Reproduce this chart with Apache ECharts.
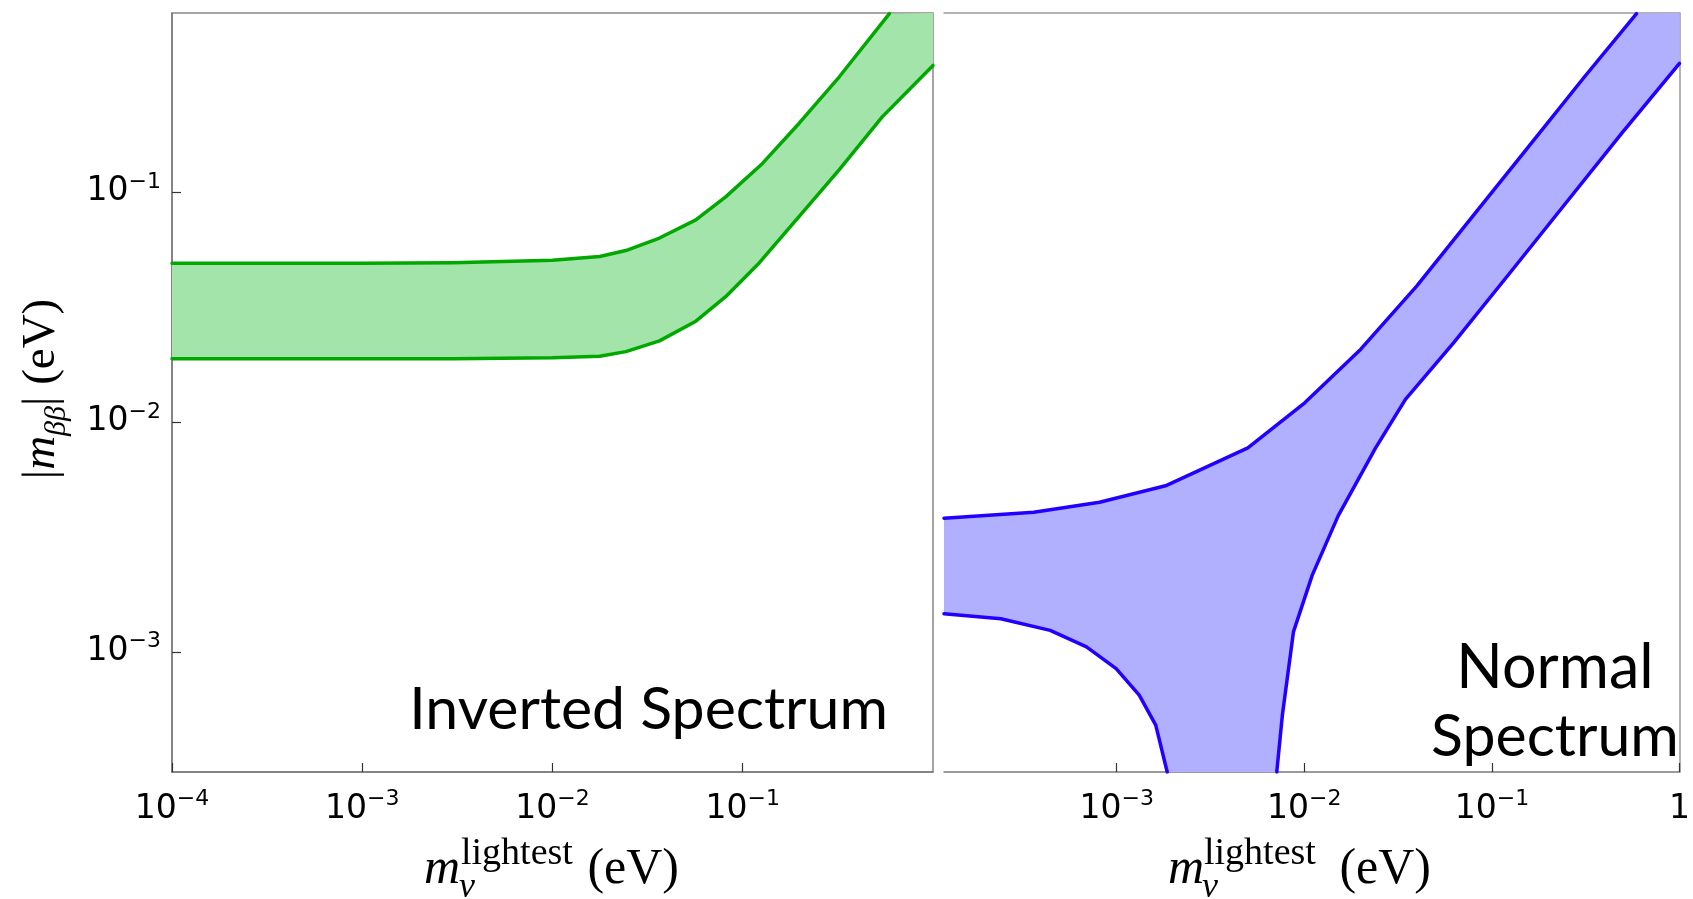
<!DOCTYPE html>
<html>
<head>
<meta charset="utf-8">
<script src="https://cdn.jsdelivr.net/npm/echarts@6/dist/echarts.min.js"></script>
<style>
html,body{margin:0;padding:0;background:#fff;}
#chart{width:1693px;height:899px;}
</style>
</head>
<body>
<div id="chart"></div>
<script>
// ---- axis ranges and ticks ----
const yRange = [3e-4, 0.6];
const xRangeInverted = [1e-4, 1];
const xRangeNormal = [1.2e-4, 1];
const yTicks = [1e-3, 1e-2, 1e-1];
const xTicksInverted = [1e-4, 1e-3, 1e-2, 1e-1];
const xTicksNormal = [1e-3, 1e-2, 1e-1, 1];

// ---- Inverted spectrum band (green) ----
const ihUpperX = [1e-4, 1e-3, 3e-3, 0.01, 0.0177, 0.0243, 0.0365, 0.0567, 0.0816, 0.127, 0.198, 0.321, 0.59];
const ihUpperY = [0.049, 0.049, 0.0492, 0.0505, 0.0524, 0.0556, 0.063, 0.0756, 0.0954, 0.133, 0.199, 0.316, 0.596];
const ihLowerX = [1e-4, 1e-3, 3e-3, 0.01, 0.0177, 0.0243, 0.0365, 0.0567, 0.0816, 0.122, 0.198, 0.321, 0.541, 1];
const ihLowerY = [0.0188, 0.0188, 0.0188, 0.0190, 0.0193, 0.0202, 0.0225, 0.0274, 0.0351, 0.0491, 0.0782, 0.1246, 0.212, 0.355];

// ---- Normal spectrum band (blue) ----
const nhUpperX = [1.2e-4, 3.61e-4, 8.1e-4, 1.82e-3, 5.0e-3, 0.01005, 0.02, 0.0396, 0.0787, 0.1565, 0.311, 0.59];
const nhUpperY = [3.81e-3, 4.04e-3, 4.47e-3, 5.27e-3, 7.7e-3, 0.0121, 0.0207, 0.0388, 0.0781, 0.157, 0.316, 0.596];
const nhLowerLeftX = [1.2e-4, 2.41e-4, 4.42e-4, 6.9e-4, 9.93e-4, 1.318e-3, 1.614e-3, 1.858e-3];
const nhLowerLeftY = [1.465e-3, 1.393e-3, 1.239e-3, 1.05e-3, 8.45e-4, 6.48e-4, 4.80e-4, 3.0e-4];
const nhLowerRightX = [7.13e-3, 7.64e-3, 8.75e-3, 0.01101, 0.01517, 0.02395, 0.0346, 0.0626, 0.1246, 0.2473, 0.4916, 1];
const nhLowerRightY = [3.0e-4, 5.31e-4, 1.22e-3, 2.15e-3, 3.91e-3, 7.68e-3, 0.01253, 0.0221, 0.0444, 0.0893, 0.1797, 0.362];

// ---- text ----
const panelLabels = ['Inverted Spectrum', 'Normal', 'Spectrum'];

const zip = (xs, ys) => xs.map((x, i) => [x, ys[i]]);

const GREEN_LINE = '#00a800', GREEN_FILL = '#a3e4aa';
const BLUE_LINE = '#2200ff', BLUE_FILL = '#b0b0ff';
const AXIS_COLOR = '#7a7a7a';
const TICK_FONT = 'DejaVu Sans';

function tickFormatter(hideOne) {
  return function (v) {
    const l = Math.log10(v);
    const e = Math.round(l);
    if (Math.abs(l - e) > 1e-6) return '';
    if (e === 0) return hideOne ? '' : '{b|1}';
    return '{b|10}{s|\u2212' + (-e) + '}';
  };
}
const tickRich = {
  b: { fontFamily: TICK_FONT, fontSize: 33, lineHeight: 42, color: '#000' },
  s: { fontFamily: TICK_FONT, fontSize: 22, verticalAlign: 'top', color: '#000' }
};

function bandRender(upper, corner, lowerParts, fill) {
  return function (params, api) {
    if (params.dataIndex !== 0) return null;
    let pts = upper.slice();
    pts.push(corner);
    lowerParts.forEach(part => { pts = pts.concat(part.slice().reverse()); });
    return {
      type: 'polygon',
      shape: { points: pts.map(p => api.coord(p)) },
      style: { fill: fill, stroke: null }
    };
  };
}

const chart = echarts.init(document.getElementById('chart'), null, { renderer: 'canvas' });

const tickStyle = { show: true, inside: true, length: 9, lineStyle: { color: '#333', width: 1.2 } };
function mainX(grid, range, ticks, hideOne) {
  return {
    type: 'log', logBase: 10, gridIndex: grid, min: range[0], max: range[1],
    axisLine: { show: true, lineStyle: { color: AXIS_COLOR, width: 1.5 } },
    axisTick: Object.assign({ customValues: ticks }, tickStyle),
    axisLabel: { margin: 16, fontFamily: TICK_FONT, fontSize: 33, color: '#000', customValues: ticks,
      formatter: tickFormatter(hideOne), rich: tickRich },
    splitLine: { show: false }, minorTick: { show: false }
  };
}

const ihUpper = zip(ihUpperX, ihUpperY);
const ihLower = zip(ihLowerX, ihLowerY);
const nhUpper = zip(nhUpperX, nhUpperY);
const nhLowerLeft = zip(nhLowerLeftX, nhLowerLeftY);
const nhLowerRight = zip(nhLowerRightX, nhLowerRightY);

function lineSeries(data, color, xi, yi) {
  return {
    type: 'line', xAxisIndex: xi, yAxisIndex: yi, data: data,
    showSymbol: false, symbol: 'none', silent: true, z: 5,
    smooth: false,
    lineStyle: { color: color, width: 3.5, join: 'round', cap: 'round' }
  };
}

function txt(x, y, text, family, size, align, extra) {
  return Object.assign({ type: 'text', x: x, y: y, z: 10,
    style: Object.assign({ text: text, fontFamily: family, fontSize: size, fill: '#000',
      align: align, verticalAlign: 'middle', textAlign: align, textVerticalAlign: 'middle' }, extra || {}) });
}

const option = {
  animation: false,
  backgroundColor: '#fff',
  grid: [
    { left: 172, top: 13, width: 761, height: 759, show: true, borderColor: '#888', borderWidth: 1.5, backgroundColor: 'transparent' },
    { left: 944, top: 13, width: 742, height: 759, show: false }
  ],
  xAxis: [
    mainX(0, xRangeInverted, xTicksInverted, true),
    mainX(1, xRangeNormal, xTicksNormal, false),
    { type: 'log', gridIndex: 1, position: 'top', min: xRangeNormal[0], max: xRangeNormal[1],
      axisLine: { show: true, lineStyle: { color: '#999', width: 1.5 } },
      axisTick: { show: false }, axisLabel: { show: false }, splitLine: { show: false } }
  ],
  yAxis: [
    { type: 'log', gridIndex: 0, min: yRange[0], max: yRange[1],
      axisLine: { show: true, lineStyle: { color: AXIS_COLOR, width: 1.5 } },
      axisTick: Object.assign({ customValues: yTicks }, tickStyle),
      axisLabel: { margin: 11, fontFamily: TICK_FONT, fontSize: 33, color: '#000', customValues: yTicks,
        formatter: tickFormatter(true), rich: tickRich },
      splitLine: { show: false } },
    { type: 'log', gridIndex: 1, min: yRange[0], max: yRange[1],
      axisLine: { show: false }, axisTick: { show: false }, axisLabel: { show: false }, splitLine: { show: false } },
    { type: 'log', gridIndex: 1, position: 'right', min: yRange[0], max: yRange[1],
      axisLine: { show: true, lineStyle: { color: '#999', width: 1.5 } },
      axisTick: { show: false }, axisLabel: { show: false }, splitLine: { show: false } }
  ],
  series: [
    { type: 'custom', xAxisIndex: 0, yAxisIndex: 0, data: ihUpper, silent: true, z: 2,
      renderItem: bandRender(ihUpper, [xRangeInverted[1], yRange[1]], [ihLower], GREEN_FILL) },
    lineSeries(ihUpper, GREEN_LINE, 0, 0),
    lineSeries(ihLower, GREEN_LINE, 0, 0),
    { type: 'custom', xAxisIndex: 1, yAxisIndex: 1, data: nhUpper, silent: true, z: 2,
      renderItem: bandRender(nhUpper, [xRangeNormal[1], yRange[1]], [nhLowerRight, nhLowerLeft], BLUE_FILL) },
    lineSeries(nhUpper, BLUE_LINE, 1, 1),
    lineSeries(nhLowerLeft, BLUE_LINE, 1, 1),
    lineSeries(nhLowerRight, BLUE_LINE, 1, 1)
  ],
  graphic: [
    // panel annotations
    txt(888, 710, panelLabels[0], 'Lato', 59, 'right'),
    txt(1555, 668, panelLabels[1], 'Lato', 61, 'center'),
    txt(1555, 737, panelLabels[2], 'Lato', 59, 'center'),
    // left x title
    txt(424, 870, 'm', 'Liberation Serif', 50, 'left', { fontStyle: 'italic' }),
    txt(461, 854, 'lightest', 'Liberation Serif', 38, 'left'),
    txt(459, 888, '\u03bd', 'Liberation Serif', 36, 'left', { fontStyle: 'italic' }),
    txt(679, 870, '(eV)', 'Liberation Serif', 50, 'right'),
    // right x title
    txt(1168, 870, 'm', 'Liberation Serif', 50, 'left', { fontStyle: 'italic' }),
    txt(1204, 854, 'lightest', 'Liberation Serif', 38, 'left'),
    txt(1202, 888, '\u03bd', 'Liberation Serif', 36, 'left', { fontStyle: 'italic' }),
    txt(1431, 870, '(eV)', 'Liberation Serif', 50, 'right'),
    // y title (rotated)
    { type: 'text', x: 42, y: 389, rotation: Math.PI / 2,
      style: { text: '{n||}{mi|m}{sub|\u03b2\u03b2}{n|| (eV)}', align: 'center', verticalAlign: 'middle', textAlign: 'center', textVerticalAlign: 'middle',
        fontFamily: 'Liberation Serif', fontSize: 47, fill: '#000',
        rich: {
          n: { fontFamily: 'Liberation Serif', fontSize: 47, lineHeight: 60, fill: '#000', color: '#000' },
          mi: { fontFamily: 'Liberation Serif', fontStyle: 'italic', fontSize: 47, lineHeight: 60, fill: '#000', color: '#000' },
          sub: { fontFamily: 'Liberation Serif', fontStyle: 'italic', fontSize: 30, verticalAlign: 'bottom', fill: '#000', color: '#000' }
        } } }
  ]
};
chart.setOption(option);
</script>
</body>
</html>
